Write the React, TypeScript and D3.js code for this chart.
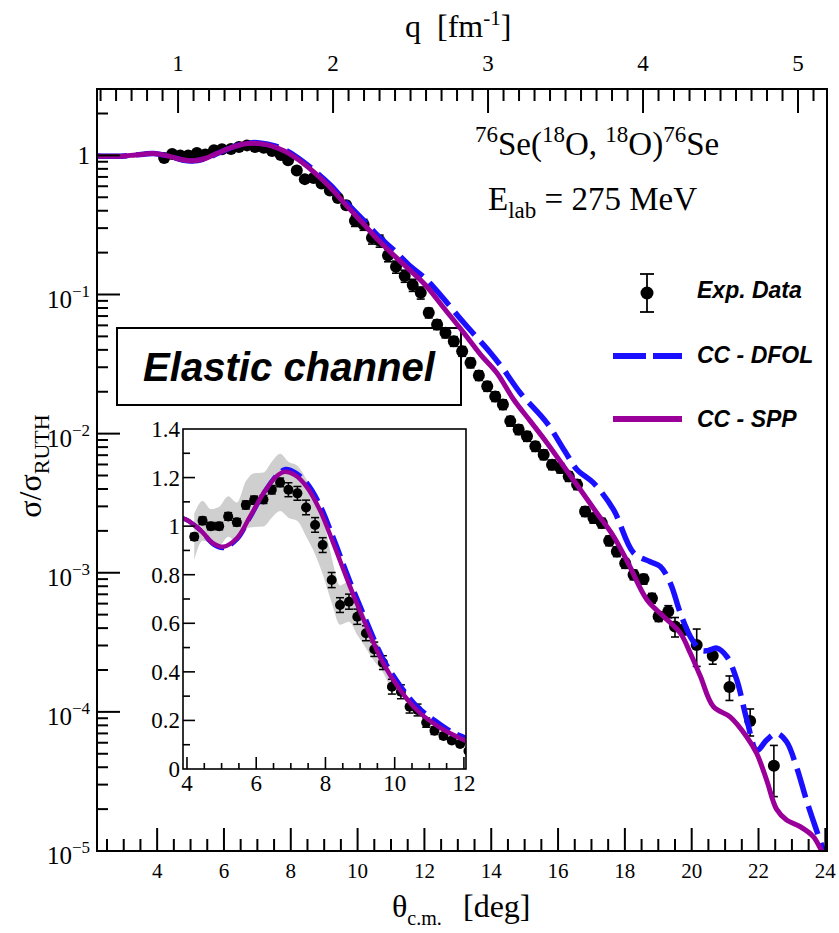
import React, { useEffect, useRef } from 'react';
import * as d3 from 'd3';

// experimental cross section (ratio to Rutherford) vs theta c.m.
const expTheta = [
  4.21, 4.45, 4.69, 4.93, 5.19, 5.44, 5.70, 5.94, 6.21, 6.45, 6.69, 6.93, 7.19, 7.44, 7.70, 7.92,
  8.18, 8.42, 8.68, 8.92, 9.17, 9.41, 9.66, 9.92, 10.18, 10.43, 10.66, 10.91, 11.15, 11.41, 11.65, 11.89,
  12.13, 12.38, 12.63, 12.88, 13.13, 13.38, 13.63, 13.88, 14.12, 14.35, 14.57, 14.82, 15.07, 15.32, 15.57, 15.82,
  16.07, 16.32, 16.57, 16.81, 17.06, 17.31, 17.53, 17.76, 18.01, 18.26, 18.56, 18.81, 19.01, 19.30, 19.50, 19.75,
  20.15, 20.63, 21.13, 21.75, 22.46
];
const expValue = [
  0.956, 1.022, 1.0, 1.0, 1.04, 1.016, 1.087, 1.107, 1.11, 1.15, 1.18, 1.15, 1.135, 1.077, 1.005, 0.922,
  0.778, 0.675, 0.689, 0.627, 0.559, 0.493, 0.438, 0.339, 0.318, 0.256, 0.243, 0.191, 0.158, 0.136, 0.117, 0.103,
  0.0738, 0.0608, 0.053, 0.0461, 0.0391, 0.0323, 0.0262, 0.0219, 0.0185, 0.0162, 0.0123, 0.0107, 0.00957, 0.0081, 0.00706, 0.00598,
  0.00566, 0.00493, 0.0043, 0.00276, 0.00247, 0.00228, 0.0017, 0.00142, 0.00117, 0.000968, 0.0009, 0.000657, 0.000485, 0.000527, 0.000411, 0.000389,
  0.000303, 0.000253, 0.000151, 0.000086, 0.000041
];
// relative errors
const expRelErr = [
  0.015, 0.015, 0.015, 0.015, 0.015, 0.015, 0.015, 0.015, 0.015, 0.015, 0.015, 0.025, 0.025, 0.028, 0.03, 0.033,
  0.04, 0.045, 0.045, 0.05, 0.055, 0.06, 0.065, 0.09, 0.09, 0.1, 0.1, 0.1, 0.1, 0.1, 0.1, 0.1,
  0.08, 0.08, 0.08, 0.08, 0.08, 0.08, 0.08, 0.08, 0.08, 0.08, 0.08, 0.08, 0.08, 0.08, 0.08, 0.08,
  0.08, 0.08, 0.08, 0.08, 0.08, 0.08, 0.08, 0.08, 0.08, 0.08, 0.08, 0.08, 0.08, 0.1, 0.16, 0.08,
  0.3, 0.13, 0.2, 0.22, 0.4
];
// grey systematic band (inset), relative half width for the first points
const bandRel = [
  0.1, 0.08, 0.07, 0.08, 0.08, 0.08, 0.09, 0.1, 0.1, 0.1, 0.1, 0.1, 0.1, 0.11, 0.12, 0.13,
  0.12, 0.12, 0.12, 0.12, 0.11, 0.1, 0.09, 0.06
];

// CC - SPP
const sppTheta = [
  2.2, 2.8, 3.2, 3.6, 3.89, 4.38, 4.76, 5.05, 5.44, 5.82, 6.21, 6.59, 6.83, 7.12, 7.46, 7.84, 8.23, 8.71,
  9.19, 9.67, 10.16, 10.64, 11.12, 11.6, 12.03, 12.6, 13.18, 13.68, 14.17, 14.67, 15.17, 15.67, 16.17, 16.67,
  17.16, 17.66, 18.1, 18.66, 19.16, 19.66, 19.96, 20.26, 20.65, 21.15, 21.65, 21.95, 22.25, 22.54, 22.84, 23.24,
  23.64, 23.89, 24.05
];
const sppValue = [
  0.99, 0.985, 1.0, 1.02, 1.032, 0.984, 0.929, 0.915, 0.95, 1.039, 1.135, 1.206, 1.224, 1.21, 1.162, 1.066, 0.929, 0.751,
  0.586, 0.435, 0.325, 0.243, 0.188, 0.147, 0.117, 0.079, 0.053, 0.037, 0.0273, 0.0176, 0.0123, 0.00857, 0.00582, 0.00395,
  0.00269, 0.00183, 0.00117, 0.00064, 0.000485, 0.000368, 0.000264, 0.00018, 0.000109, 0.000092, 0.000066, 0.00005, 0.000032, 0.00002, 0.0000167, 0.000015,
  0.0000127, 0.00001, 0.0000085
];

// CC - DFOL
const dfolTheta = [
  2.2, 2.8, 3.2, 3.6, 3.89, 4.38, 4.76, 5.05, 5.44, 5.82, 6.21, 6.59, 6.85, 7.12, 7.46, 7.84, 8.23, 8.71,
  9.19, 9.67, 10.16, 10.64, 11.12, 11.6, 12.03, 12.5, 13.18, 13.98, 14.37, 14.87, 15.67, 16.2, 16.57, 17.06,
  17.66, 18.26, 18.76, 19.06, 19.36, 19.66, 19.96, 20.26, 20.46, 20.75, 21.05, 21.35, 21.65, 21.95, 22.25, 22.54,
  22.84, 23.14, 23.44, 23.74, 24.05
];
const dfolValue = [
  0.99, 0.985, 1.0, 1.02, 1.032, 0.984, 0.925, 0.91, 0.945, 1.035, 1.135, 1.21, 1.235, 1.222, 1.18, 1.09, 0.955, 0.775,
  0.61, 0.455, 0.345, 0.26, 0.205, 0.158, 0.13, 0.098, 0.0626, 0.038, 0.0289, 0.0196, 0.0119, 0.0075, 0.0055, 0.00442,
  0.00284, 0.00139, 0.0012, 0.00111, 0.000843, 0.000513, 0.000348, 0.000279, 0.000275, 0.000287, 0.00025, 0.00017, 0.000088, 0.000053, 0.000063, 0.00007,
  0.000061, 0.00004, 0.000023, 0.000014, 0.0000085
];

const xTickLabels = [4, 6, 8, 10, 12, 14, 16, 18, 20, 22, 24];
const yDecades = [0, -1, -2, -3, -4, -5];
const qTickLabels = [1, 2, 3, 4, 5];
const insetXTicks = [4, 6, 8, 10, 12];
const insetYTicks = [0, 0.2, 0.4, 0.6, 0.8, 1, 1.2, 1.4];
const legendLabels = ['Exp. Data', 'CC - DFOL', 'CC - SPP'];

const BLUE = '#1a10ff';
const PURPLE = '#9a0099';

const App = () => {
  const ref = useRef<SVGSVGElement>(null);

  useEffect(() => {
    const svg = d3.select(ref.current);
    svg.selectAll('*').remove();
    const serif = '"Liberation Serif", "Times New Roman", serif';
    const sans = '"Liberation Sans", Arial, sans-serif';

    const L = 97, R = 827, T = 89, B = 851;
    const x = d3.scaleLinear().domain([2.2, 24.05]).range([L, R]);
    const y = d3.scaleLog().domain([1e-5, 3]).range([B, T]);
    const q = d3.scaleLinear().domain([0.477, 5.187]).range([L, R]);

    const exp = expTheta.map((t, i) => ({ t, v: expValue[i], e: expRelErr[i] }));
    const spp = sppTheta.map((t, i) => [t, sppValue[i]] as [number, number]);
    const dfol = dfolTheta.map((t, i) => [t, dfolValue[i]] as [number, number]);

    const defs = svg.append('defs');
    defs.append('clipPath').attr('id', 'mainClip')
      .append('rect').attr('x', L).attr('y', T).attr('width', R - L).attr('height', B - T);

    // label box, sits under the data
    svg.append('rect')
      .attr('x', 117).attr('y', 328).attr('width', 344).attr('height', 77)
      .attr('fill', 'white').attr('stroke', '#000').attr('stroke-width', 2);
    svg.append('text')
      .attr('x', 143).attr('y', 381)
      .attr('font-family', sans).attr('font-size', 41).attr('font-weight', 'bold').attr('font-style', 'italic')
      .attr('textLength', 292).attr('lengthAdjust', 'spacingAndGlyphs')
      .text('Elastic channel');

    const main = svg.append('g').attr('clip-path', 'url(#mainClip)');

    // experimental points
    const errG = main.append('g').attr('stroke', '#000').attr('stroke-width', 1.6);
    exp.forEach(d => {
      const cx = x(d.t);
      const y1 = y(d.v * (1 + d.e)), y2 = y(d.v * (1 - d.e));
      errG.append('line').attr('x1', cx).attr('x2', cx).attr('y1', y1).attr('y2', y2);
      errG.append('line').attr('x1', cx - 4).attr('x2', cx + 4).attr('y1', y1).attr('y2', y1);
      errG.append('line').attr('x1', cx - 4).attr('x2', cx + 4).attr('y1', y2).attr('y2', y2);
    });
    main.append('g').selectAll('circle').data(exp).join('circle')
      .attr('cx', d => x(d.t)).attr('cy', d => y(d.v)).attr('r', 6).attr('fill', '#000');

    const mainLine = d3.line<[number, number]>()
      .x(d => x(d[0])).y(d => y(d[1]))
      .curve(d3.curveCatmullRom.alpha(0.5));

    main.append('path').attr('d', mainLine(dfol))
      .attr('fill', 'none').attr('stroke', BLUE).attr('stroke-width', 5.5)
      .attr('stroke-dasharray', '30,9');
    main.append('path').attr('d', mainLine(spp))
      .attr('fill', 'none').attr('stroke', PURPLE).attr('stroke-width', 5);

    // frame and ticks
    svg.append('rect').attr('x', L).attr('y', T).attr('width', R - L).attr('height', B - T)
      .attr('fill', 'none').attr('stroke', '#000').attr('stroke-width', 2);

    const ticks = svg.append('g').attr('stroke', '#000').attr('stroke-width', 2);
    // bottom theta axis
    d3.range(2.5, 24.01, 0.5).forEach(t => {
      const major = xTickLabels.includes(t);
      ticks.append('line').attr('x1', x(t)).attr('x2', x(t)).attr('y1', B).attr('y2', B - (major ? 23 : 12));
    });
    svg.append('g').selectAll('text').data(xTickLabels).join('text')
      .attr('x', d => x(d)).attr('y', 878).attr('text-anchor', 'middle')
      .attr('font-family', serif).attr('font-size', 21).text(d => d);

    // top q axis
    d3.range(0.5, 5.19, 0.1).forEach(v => {
      const major = Math.abs(v - Math.round(v)) < 1e-6;
      ticks.append('line').attr('x1', q(v)).attr('x2', q(v)).attr('y1', T).attr('y2', T + (major ? 24 : 12));
    });
    svg.append('g').selectAll('text').data(qTickLabels).join('text')
      .attr('x', d => q(d)).attr('y', 71).attr('text-anchor', 'middle')
      .attr('font-family', serif).attr('font-size', 23).text(d => d);

    // left log axis
    yDecades.forEach(p => {
      const base = Math.pow(10, p);
      ticks.append('line').attr('x1', L).attr('x2', L + 23).attr('y1', y(base)).attr('y2', y(base));
      d3.range(2, 10).forEach(k => {
        const v = k * base;
        if (v > 2.95) return;
        ticks.append('line').attr('x1', L).attr('x2', L + 11).attr('y1', y(v)).attr('y2', y(v));
      });
      const lab = svg.append('text').attr('x', 90).attr('y', y(base) + (p === 0 ? 9 : 13))
        .attr('text-anchor', 'end').attr('font-family', serif).attr('font-size', 25);
      if (p === 0) {
        lab.text('1');
      } else {
        lab.append('tspan').text('10');
        lab.append('tspan').attr('dy', -11).attr('font-size', 17).text('\u2212' + (-p));
      }
    });

    // axis titles
    const qTitle = svg.append('text').attr('x', 405).attr('y', 37)
      .attr('font-family', serif).attr('font-size', 32).style('white-space', 'pre');
    qTitle.append('tspan').text('q  [fm');
    qTitle.append('tspan').attr('dy', -12).attr('font-size', 21).text('-1');
    qTitle.append('tspan').attr('dy', 12).text(']');

    const xTitle = svg.append('text').attr('x', 392).attr('y', 917)
      .attr('font-family', serif).attr('font-size', 32);
    xTitle.append('tspan').text('\u03b8');
    xTitle.append('tspan').attr('dy', 8).attr('font-size', 20).text('c.m.');
    svg.append('text').attr('x', 463).attr('y', 917)
      .attr('font-family', serif).attr('font-size', 32).text('[deg]');

    const yTitle = svg.append('text')
      .attr('transform', 'translate(41,466) rotate(-90)')
      .attr('text-anchor', 'middle').attr('font-family', serif).attr('font-size', 32);
    yTitle.append('tspan').text('\u03c3/\u03c3');
    yTitle.append('tspan').attr('dy', 8).attr('font-size', 22).text('RUTH');

    // reaction text
    const reac = svg.append('text').attr('x', 475).attr('y', 155)
      .attr('font-family', serif).attr('font-size', 33).style('white-space', 'pre');
    const parts: [string, boolean][] = [['76', true], ['Se(', false], ['18', true], ['O, ', false], ['18', true], ['O)', false], ['76', true], ['Se', false]];
    let up = false;
    parts.forEach(([s, sup]) => {
      const ts = reac.append('tspan').text(s);
      if (sup && !up) { ts.attr('dy', -13).attr('font-size', 23); up = true; }
      else if (sup) ts.attr('font-size', 23);
      else if (up) { ts.attr('dy', 13); up = false; }
    });

    const elab = svg.append('text').attr('x', 488).attr('y', 210)
      .attr('font-family', serif).attr('font-size', 33).style('white-space', 'pre');
    elab.append('tspan').text('E');
    elab.append('tspan').attr('dy', 8).attr('font-size', 23).text('lab');
    elab.append('tspan').attr('dy', -8).text(' = 275 MeV');

    // legend
    const lg = svg.append('g');
    lg.append('line').attr('x1', 647).attr('x2', 647).attr('y1', 274).attr('y2', 312).attr('stroke', '#000').attr('stroke-width', 1.8);
    lg.append('line').attr('x1', 640).attr('x2', 654).attr('y1', 274).attr('y2', 274).attr('stroke', '#000').attr('stroke-width', 1.8);
    lg.append('line').attr('x1', 640).attr('x2', 654).attr('y1', 312).attr('y2', 312).attr('stroke', '#000').attr('stroke-width', 1.8);
    lg.append('circle').attr('cx', 647).attr('cy', 293).attr('r', 6.5).attr('fill', '#000');
    lg.append('line').attr('x1', 613).attr('x2', 682).attr('y1', 356).attr('y2', 356)
      .attr('stroke', BLUE).attr('stroke-width', 6).attr('stroke-dasharray', '33,7');
    lg.append('line').attr('x1', 613).attr('x2', 682).attr('y1', 419).attr('y2', 419)
      .attr('stroke', PURPLE).attr('stroke-width', 6);
    lg.selectAll('text.lab').data(legendLabels).join('text')
      .attr('x', 697).attr('y', (d, i) => [298, 363, 427][i])
      .attr('font-family', sans).attr('font-size', 23).attr('font-weight', 'bold').attr('font-style', 'italic')
      .text(d => d);

    // inset, linear scale
    const iL = 183, iR = 466, iT = 429, iB = 769;
    const ix = d3.scaleLinear().domain([3.885, 12.06]).range([iL, iR]);
    const iy = d3.scaleLinear().domain([0, 1.4]).range([iB, iT]);
    defs.append('clipPath').attr('id', 'insetClip')
      .append('rect').attr('x', iL).attr('y', iT).attr('width', iR - iL).attr('height', iB - iT);

    svg.append('rect').attr('x', iL).attr('y', iT).attr('width', iR - iL).attr('height', iB - iT)
      .attr('fill', 'white');
    const ins = svg.append('g').attr('clip-path', 'url(#insetClip)');

    const bandPts = bandRel.map((r, i) => ({ t: expTheta[i], v: expValue[i], r }));
    const band = d3.area<{ t: number; v: number; r: number }>()
      .x(d => ix(d.t)).y0(d => iy(d.v * (1 - d.r))).y1(d => iy(d.v * (1 + d.r)))
      .curve(d3.curveMonotoneX);
    ins.append('path').attr('d', band(bandPts)).attr('fill', '#cfcfcf');

    const inErr = ins.append('g').attr('stroke', '#000').attr('stroke-width', 1.5);
    exp.forEach(d => {
      const cx = ix(d.t);
      const e = d.v * d.e;
      const y1 = iy(d.v + e), y2 = iy(d.v - e);
      inErr.append('line').attr('x1', cx).attr('x2', cx).attr('y1', y1).attr('y2', y2);
      inErr.append('line').attr('x1', cx - 4).attr('x2', cx + 4).attr('y1', y1).attr('y2', y1);
      inErr.append('line').attr('x1', cx - 4).attr('x2', cx + 4).attr('y1', y2).attr('y2', y2);
    });
    ins.append('g').selectAll('circle').data(exp).join('circle')
      .attr('cx', d => ix(d.t)).attr('cy', d => iy(d.v)).attr('r', 5).attr('fill', '#000');

    const inLine = d3.line<[number, number]>()
      .x(d => ix(d[0])).y(d => iy(d[1]))
      .curve(d3.curveCatmullRom.alpha(0.5));
    ins.append('path').attr('d', inLine(dfol))
      .attr('fill', 'none').attr('stroke', BLUE).attr('stroke-width', 4.5).attr('stroke-dasharray', '22,8');
    ins.append('path').attr('d', inLine(spp))
      .attr('fill', 'none').attr('stroke', PURPLE).attr('stroke-width', 4.5);

    svg.append('rect').attr('x', iL).attr('y', iT).attr('width', iR - iL).attr('height', iB - iT)
      .attr('fill', 'none').attr('stroke', '#000').attr('stroke-width', 1.6);

    const iticks = svg.append('g').attr('stroke', '#000').attr('stroke-width', 1.6);
    d3.range(0.1, 1.4, 0.1).forEach(v => {
      const major = insetYTicks.some(t => Math.abs(t - v) < 1e-6);
      iticks.append('line').attr('x1', iL).attr('x2', iL + (major ? 12 : 7)).attr('y1', iy(v)).attr('y2', iy(v));
    });
    d3.range(4, 12.01, 0.5).forEach(t => {
      const major = insetXTicks.includes(t);
      iticks.append('line').attr('x1', ix(t)).attr('x2', ix(t)).attr('y1', iB).attr('y2', iB - (major ? 12 : 6));
    });
    svg.append('g').selectAll('text').data(insetYTicks).join('text')
      .attr('x', 180).attr('y', d => iy(d) + 8).attr('text-anchor', 'end')
      .attr('font-family', serif).attr('font-size', 23).text(d => d3.format('~g')(d));
    svg.append('g').selectAll('text').data(insetXTicks).join('text')
      .attr('x', d => ix(d)).attr('y', 791).attr('text-anchor', 'middle')
      .attr('font-family', serif).attr('font-size', 23).text(d => d);
  }, []);

  return (
    <svg ref={ref} width={839} height={933}
      style={{ position: 'absolute', left: 0, top: 0, background: 'white' }} />
  );
};

export default App;
